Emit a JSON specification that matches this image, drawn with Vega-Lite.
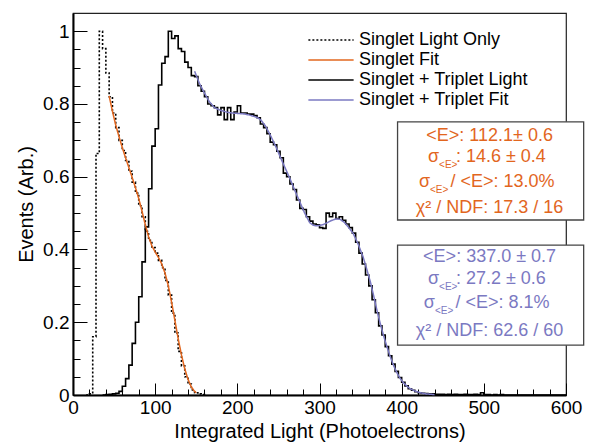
{
  "$schema": "https://vega.github.io/schema/vega-lite/v6.json",
  "width": 493,
  "height": 382,
  "autosize": {"type": "none"},
  "padding": {"left": 73, "top": 13, "right": 23, "bottom": 49},
  "background": "white",
  "config": {
    "font": "Liberation Sans",
    "view": {"stroke": "#222", "strokeWidth": 1.2},
    "legend": {
      "symbolType": "M-4,0H4",
      "symbolSize": 128,
      "symbolStrokeWidth": 1.6,
      "labelFontSize": 18,
      "labelFont": "Liberation Sans",
      "labelColor": "black",
      "labelOffset": 19,
      "rowPadding": 2,
      "padding": 0,
      "labelLimit": 400
    }
  },
  "resolve": {"axis": {"x": "independent", "y": "independent"}},
  "datasets": {
    "hist": [
      {"series": "Singlet Light Only", "x": 16, "y": 0},
      {"series": "Singlet Light Only", "x": 20, "y": 0.003},
      {"series": "Singlet Light Only", "x": 24, "y": 0.16},
      {"series": "Singlet Light Only", "x": 28, "y": 0.664},
      {"series": "Singlet Light Only", "x": 32, "y": 1.0},
      {"series": "Singlet Light Only", "x": 36, "y": 0.952},
      {"series": "Singlet Light Only", "x": 40, "y": 0.885},
      {"series": "Singlet Light Only", "x": 44, "y": 0.82},
      {"series": "Singlet Light Only", "x": 48, "y": 0.775},
      {"series": "Singlet Light Only", "x": 52, "y": 0.735},
      {"series": "Singlet Light Only", "x": 56, "y": 0.7},
      {"series": "Singlet Light Only", "x": 60, "y": 0.672},
      {"series": "Singlet Light Only", "x": 64, "y": 0.645},
      {"series": "Singlet Light Only", "x": 68, "y": 0.615},
      {"series": "Singlet Light Only", "x": 72, "y": 0.585},
      {"series": "Singlet Light Only", "x": 76, "y": 0.555},
      {"series": "Singlet Light Only", "x": 80, "y": 0.52},
      {"series": "Singlet Light Only", "x": 84, "y": 0.49},
      {"series": "Singlet Light Only", "x": 88, "y": 0.45},
      {"series": "Singlet Light Only", "x": 92, "y": 0.425},
      {"series": "Singlet Light Only", "x": 96, "y": 0.405},
      {"series": "Singlet Light Only", "x": 100, "y": 0.39},
      {"series": "Singlet Light Only", "x": 104, "y": 0.37},
      {"series": "Singlet Light Only", "x": 108, "y": 0.35},
      {"series": "Singlet Light Only", "x": 112, "y": 0.315},
      {"series": "Singlet Light Only", "x": 116, "y": 0.275},
      {"series": "Singlet Light Only", "x": 120, "y": 0.225},
      {"series": "Singlet Light Only", "x": 124, "y": 0.17},
      {"series": "Singlet Light Only", "x": 128, "y": 0.12},
      {"series": "Singlet Light Only", "x": 132, "y": 0.08},
      {"series": "Singlet Light Only", "x": 136, "y": 0.05},
      {"series": "Singlet Light Only", "x": 140, "y": 0.03},
      {"series": "Singlet Light Only", "x": 144, "y": 0.014},
      {"series": "Singlet Light Only", "x": 148, "y": 0.006},
      {"series": "Singlet Light Only", "x": 152, "y": 0.003},
      {"series": "Singlet Light Only", "x": 156, "y": 0.001},
      {"series": "Singlet Light Only", "x": 160, "y": 0},

      {"series": "Singlet + Triplet Light", "x": 36, "y": 0},
      {"series": "Singlet + Triplet Light", "x": 40, "y": 0.001},
      {"series": "Singlet + Triplet Light", "x": 44, "y": 0.002},
      {"series": "Singlet + Triplet Light", "x": 48, "y": 0.003},
      {"series": "Singlet + Triplet Light", "x": 52, "y": 0.005},
      {"series": "Singlet + Triplet Light", "x": 56, "y": 0.01},
      {"series": "Singlet + Triplet Light", "x": 60, "y": 0.024},
      {"series": "Singlet + Triplet Light", "x": 64, "y": 0.045},
      {"series": "Singlet + Triplet Light", "x": 68, "y": 0.082},
      {"series": "Singlet + Triplet Light", "x": 72, "y": 0.142},
      {"series": "Singlet + Triplet Light", "x": 76, "y": 0.2},
      {"series": "Singlet + Triplet Light", "x": 80, "y": 0.27},
      {"series": "Singlet + Triplet Light", "x": 84, "y": 0.366},
      {"series": "Singlet + Triplet Light", "x": 88, "y": 0.462},
      {"series": "Singlet + Triplet Light", "x": 92, "y": 0.567},
      {"series": "Singlet + Triplet Light", "x": 96, "y": 0.684},
      {"series": "Singlet + Triplet Light", "x": 100, "y": 0.732},
      {"series": "Singlet + Triplet Light", "x": 104, "y": 0.852},
      {"series": "Singlet + Triplet Light", "x": 108, "y": 0.912},
      {"series": "Singlet + Triplet Light", "x": 112, "y": 0.93},
      {"series": "Singlet + Triplet Light", "x": 116, "y": 1.0},
      {"series": "Singlet + Triplet Light", "x": 120, "y": 0.98},
      {"series": "Singlet + Triplet Light", "x": 124, "y": 0.987},
      {"series": "Singlet + Triplet Light", "x": 128, "y": 0.952},
      {"series": "Singlet + Triplet Light", "x": 132, "y": 0.944},
      {"series": "Singlet + Triplet Light", "x": 136, "y": 0.915},
      {"series": "Singlet + Triplet Light", "x": 140, "y": 0.9},
      {"series": "Singlet + Triplet Light", "x": 144, "y": 0.878},
      {"series": "Singlet + Triplet Light", "x": 148, "y": 0.875},
      {"series": "Singlet + Triplet Light", "x": 152, "y": 0.85},
      {"series": "Singlet + Triplet Light", "x": 156, "y": 0.835},
      {"series": "Singlet + Triplet Light", "x": 160, "y": 0.82},
      {"series": "Singlet + Triplet Light", "x": 164, "y": 0.8},
      {"series": "Singlet + Triplet Light", "x": 168, "y": 0.795},
      {"series": "Singlet + Triplet Light", "x": 172, "y": 0.79},
      {"series": "Singlet + Triplet Light", "x": 176, "y": 0.77},
      {"series": "Singlet + Triplet Light", "x": 180, "y": 0.79},
      {"series": "Singlet + Triplet Light", "x": 184, "y": 0.757},
      {"series": "Singlet + Triplet Light", "x": 188, "y": 0.79},
      {"series": "Singlet + Triplet Light", "x": 192, "y": 0.757},
      {"series": "Singlet + Triplet Light", "x": 196, "y": 0.778},
      {"series": "Singlet + Triplet Light", "x": 200, "y": 0.795},
      {"series": "Singlet + Triplet Light", "x": 204, "y": 0.775},
      {"series": "Singlet + Triplet Light", "x": 208, "y": 0.775},
      {"series": "Singlet + Triplet Light", "x": 212, "y": 0.772},
      {"series": "Singlet + Triplet Light", "x": 216, "y": 0.772},
      {"series": "Singlet + Triplet Light", "x": 220, "y": 0.768},
      {"series": "Singlet + Triplet Light", "x": 224, "y": 0.762},
      {"series": "Singlet + Triplet Light", "x": 228, "y": 0.745},
      {"series": "Singlet + Triplet Light", "x": 232, "y": 0.735},
      {"series": "Singlet + Triplet Light", "x": 236, "y": 0.718},
      {"series": "Singlet + Triplet Light", "x": 240, "y": 0.695},
      {"series": "Singlet + Triplet Light", "x": 244, "y": 0.688},
      {"series": "Singlet + Triplet Light", "x": 248, "y": 0.67},
      {"series": "Singlet + Triplet Light", "x": 252, "y": 0.652},
      {"series": "Singlet + Triplet Light", "x": 256, "y": 0.61},
      {"series": "Singlet + Triplet Light", "x": 260, "y": 0.6},
      {"series": "Singlet + Triplet Light", "x": 264, "y": 0.58},
      {"series": "Singlet + Triplet Light", "x": 268, "y": 0.565},
      {"series": "Singlet + Triplet Light", "x": 272, "y": 0.536},
      {"series": "Singlet + Triplet Light", "x": 276, "y": 0.513},
      {"series": "Singlet + Triplet Light", "x": 280, "y": 0.51},
      {"series": "Singlet + Triplet Light", "x": 284, "y": 0.49},
      {"series": "Singlet + Triplet Light", "x": 288, "y": 0.478},
      {"series": "Singlet + Triplet Light", "x": 292, "y": 0.47},
      {"series": "Singlet + Triplet Light", "x": 296, "y": 0.468},
      {"series": "Singlet + Triplet Light", "x": 300, "y": 0.46},
      {"series": "Singlet + Triplet Light", "x": 304, "y": 0.458},
      {"series": "Singlet + Triplet Light", "x": 308, "y": 0.5},
      {"series": "Singlet + Triplet Light", "x": 312, "y": 0.49},
      {"series": "Singlet + Triplet Light", "x": 316, "y": 0.5},
      {"series": "Singlet + Triplet Light", "x": 320, "y": 0.485},
      {"series": "Singlet + Triplet Light", "x": 324, "y": 0.49},
      {"series": "Singlet + Triplet Light", "x": 328, "y": 0.48},
      {"series": "Singlet + Triplet Light", "x": 332, "y": 0.47},
      {"series": "Singlet + Triplet Light", "x": 336, "y": 0.46},
      {"series": "Singlet + Triplet Light", "x": 340, "y": 0.445},
      {"series": "Singlet + Triplet Light", "x": 344, "y": 0.42},
      {"series": "Singlet + Triplet Light", "x": 348, "y": 0.39},
      {"series": "Singlet + Triplet Light", "x": 352, "y": 0.36},
      {"series": "Singlet + Triplet Light", "x": 356, "y": 0.33},
      {"series": "Singlet + Triplet Light", "x": 360, "y": 0.3},
      {"series": "Singlet + Triplet Light", "x": 364, "y": 0.262},
      {"series": "Singlet + Triplet Light", "x": 368, "y": 0.226},
      {"series": "Singlet + Triplet Light", "x": 372, "y": 0.19},
      {"series": "Singlet + Triplet Light", "x": 376, "y": 0.165},
      {"series": "Singlet + Triplet Light", "x": 380, "y": 0.133},
      {"series": "Singlet + Triplet Light", "x": 384, "y": 0.108},
      {"series": "Singlet + Triplet Light", "x": 388, "y": 0.085},
      {"series": "Singlet + Triplet Light", "x": 392, "y": 0.065},
      {"series": "Singlet + Triplet Light", "x": 396, "y": 0.048},
      {"series": "Singlet + Triplet Light", "x": 400, "y": 0.035},
      {"series": "Singlet + Triplet Light", "x": 404, "y": 0.025},
      {"series": "Singlet + Triplet Light", "x": 408, "y": 0.017},
      {"series": "Singlet + Triplet Light", "x": 412, "y": 0.013},
      {"series": "Singlet + Triplet Light", "x": 416, "y": 0.009},
      {"series": "Singlet + Triplet Light", "x": 420, "y": 0.006},
      {"series": "Singlet + Triplet Light", "x": 424, "y": 0.005},
      {"series": "Singlet + Triplet Light", "x": 428, "y": 0.004},
      {"series": "Singlet + Triplet Light", "x": 432, "y": 0.003},
      {"series": "Singlet + Triplet Light", "x": 436, "y": 0.003},
      {"series": "Singlet + Triplet Light", "x": 440, "y": 0.002},
      {"series": "Singlet + Triplet Light", "x": 444, "y": 0.002},
      {"series": "Singlet + Triplet Light", "x": 448, "y": 0.002},
      {"series": "Singlet + Triplet Light", "x": 452, "y": 0.001},
      {"series": "Singlet + Triplet Light", "x": 456, "y": 0.002},
      {"series": "Singlet + Triplet Light", "x": 460, "y": 0.001},
      {"series": "Singlet + Triplet Light", "x": 464, "y": 0.002},
      {"series": "Singlet + Triplet Light", "x": 468, "y": 0.001},
      {"series": "Singlet + Triplet Light", "x": 472, "y": 0.001},
      {"series": "Singlet + Triplet Light", "x": 476, "y": 0.002},
      {"series": "Singlet + Triplet Light", "x": 480, "y": 0.001},
      {"series": "Singlet + Triplet Light", "x": 484, "y": 0.001},
      {"series": "Singlet + Triplet Light", "x": 488, "y": 0.002},
      {"series": "Singlet + Triplet Light", "x": 492, "y": 0.001},
      {"series": "Singlet + Triplet Light", "x": 496, "y": 0.006},
      {"series": "Singlet + Triplet Light", "x": 500, "y": 0.001},
      {"series": "Singlet + Triplet Light", "x": 504, "y": 0.001},
      {"series": "Singlet + Triplet Light", "x": 508, "y": 0.0},
      {"series": "Singlet + Triplet Light", "x": 512, "y": 0.001},
      {"series": "Singlet + Triplet Light", "x": 516, "y": 0.0},
      {"series": "Singlet + Triplet Light", "x": 520, "y": 0.001},
      {"series": "Singlet + Triplet Light", "x": 524, "y": 0.0},
      {"series": "Singlet + Triplet Light", "x": 600, "y": 0.0}
    ],
    "fit": [
      {"series": "Singlet Fit", "x": 44, "y": 0.822},
      {"series": "Singlet Fit", "x": 48, "y": 0.78},
      {"series": "Singlet Fit", "x": 52, "y": 0.742},
      {"series": "Singlet Fit", "x": 56, "y": 0.71},
      {"series": "Singlet Fit", "x": 60, "y": 0.68},
      {"series": "Singlet Fit", "x": 64, "y": 0.652},
      {"series": "Singlet Fit", "x": 68, "y": 0.625},
      {"series": "Singlet Fit", "x": 72, "y": 0.598},
      {"series": "Singlet Fit", "x": 76, "y": 0.57},
      {"series": "Singlet Fit", "x": 80, "y": 0.54},
      {"series": "Singlet Fit", "x": 84, "y": 0.505},
      {"series": "Singlet Fit", "x": 88, "y": 0.468},
      {"series": "Singlet Fit", "x": 92, "y": 0.435},
      {"series": "Singlet Fit", "x": 96, "y": 0.41},
      {"series": "Singlet Fit", "x": 100, "y": 0.393},
      {"series": "Singlet Fit", "x": 104, "y": 0.378},
      {"series": "Singlet Fit", "x": 108, "y": 0.36},
      {"series": "Singlet Fit", "x": 112, "y": 0.335},
      {"series": "Singlet Fit", "x": 116, "y": 0.3},
      {"series": "Singlet Fit", "x": 120, "y": 0.255},
      {"series": "Singlet Fit", "x": 124, "y": 0.205},
      {"series": "Singlet Fit", "x": 128, "y": 0.155},
      {"series": "Singlet Fit", "x": 132, "y": 0.11},
      {"series": "Singlet Fit", "x": 136, "y": 0.072},
      {"series": "Singlet Fit", "x": 140, "y": 0.043},
      {"series": "Singlet Fit", "x": 144, "y": 0.022},
      {"series": "Singlet Fit", "x": 148, "y": 0.01},
      {"series": "Singlet Fit", "x": 150, "y": 0.006},

      {"series": "Singlet + Triplet Fit", "x": 148, "y": 0.89},
      {"series": "Singlet + Triplet Fit", "x": 154, "y": 0.856},
      {"series": "Singlet + Triplet Fit", "x": 160, "y": 0.83},
      {"series": "Singlet + Triplet Fit", "x": 166, "y": 0.806},
      {"series": "Singlet + Triplet Fit", "x": 172, "y": 0.79},
      {"series": "Singlet + Triplet Fit", "x": 180, "y": 0.782},
      {"series": "Singlet + Triplet Fit", "x": 188, "y": 0.777},
      {"series": "Singlet + Triplet Fit", "x": 194, "y": 0.775},
      {"series": "Singlet + Triplet Fit", "x": 200, "y": 0.774},
      {"series": "Singlet + Triplet Fit", "x": 207, "y": 0.773},
      {"series": "Singlet + Triplet Fit", "x": 214, "y": 0.77},
      {"series": "Singlet + Triplet Fit", "x": 220, "y": 0.766},
      {"series": "Singlet + Triplet Fit", "x": 225, "y": 0.762},
      {"series": "Singlet + Triplet Fit", "x": 229, "y": 0.755},
      {"series": "Singlet + Triplet Fit", "x": 234, "y": 0.74},
      {"series": "Singlet + Triplet Fit", "x": 240, "y": 0.715},
      {"series": "Singlet + Triplet Fit", "x": 247, "y": 0.682},
      {"series": "Singlet + Triplet Fit", "x": 255, "y": 0.64},
      {"series": "Singlet + Triplet Fit", "x": 264, "y": 0.595},
      {"series": "Singlet + Triplet Fit", "x": 270, "y": 0.562},
      {"series": "Singlet + Triplet Fit", "x": 276, "y": 0.531},
      {"series": "Singlet + Triplet Fit", "x": 282, "y": 0.5},
      {"series": "Singlet + Triplet Fit", "x": 288, "y": 0.474},
      {"series": "Singlet + Triplet Fit", "x": 292, "y": 0.467},
      {"series": "Singlet + Triplet Fit", "x": 296, "y": 0.465},
      {"series": "Singlet + Triplet Fit", "x": 300, "y": 0.466},
      {"series": "Singlet + Triplet Fit", "x": 304, "y": 0.468},
      {"series": "Singlet + Triplet Fit", "x": 308, "y": 0.472},
      {"series": "Singlet + Triplet Fit", "x": 314, "y": 0.479},
      {"series": "Singlet + Triplet Fit", "x": 320, "y": 0.484},
      {"series": "Singlet + Triplet Fit", "x": 325, "y": 0.483},
      {"series": "Singlet + Triplet Fit", "x": 330, "y": 0.475},
      {"series": "Singlet + Triplet Fit", "x": 335, "y": 0.462},
      {"series": "Singlet + Triplet Fit", "x": 341, "y": 0.444},
      {"series": "Singlet + Triplet Fit", "x": 347, "y": 0.415},
      {"series": "Singlet + Triplet Fit", "x": 353, "y": 0.38},
      {"series": "Singlet + Triplet Fit", "x": 358, "y": 0.342},
      {"series": "Singlet + Triplet Fit", "x": 362, "y": 0.31},
      {"series": "Singlet + Triplet Fit", "x": 366, "y": 0.272},
      {"series": "Singlet + Triplet Fit", "x": 370, "y": 0.232},
      {"series": "Singlet + Triplet Fit", "x": 374, "y": 0.196},
      {"series": "Singlet + Triplet Fit", "x": 378, "y": 0.163},
      {"series": "Singlet + Triplet Fit", "x": 382, "y": 0.133},
      {"series": "Singlet + Triplet Fit", "x": 386, "y": 0.106},
      {"series": "Singlet + Triplet Fit", "x": 390, "y": 0.082},
      {"series": "Singlet + Triplet Fit", "x": 394, "y": 0.062},
      {"series": "Singlet + Triplet Fit", "x": 398, "y": 0.046},
      {"series": "Singlet + Triplet Fit", "x": 402, "y": 0.034},
      {"series": "Singlet + Triplet Fit", "x": 406, "y": 0.025},
      {"series": "Singlet + Triplet Fit", "x": 410, "y": 0.018},
      {"series": "Singlet + Triplet Fit", "x": 415, "y": 0.012},
      {"series": "Singlet + Triplet Fit", "x": 420, "y": 0.008},
      {"series": "Singlet + Triplet Fit", "x": 425, "y": 0.005},
      {"series": "Singlet + Triplet Fit", "x": 430, "y": 0.003},
      {"series": "Singlet + Triplet Fit", "x": 440, "y": 0.001}
    ],
    "boxes": [
      {"box": 1, "x": 395, "x2": 621.5, "y": 0.751, "y2": 0.481},
      {"box": 2, "x": 395, "x2": 621.5, "y": 0.412, "y2": 0.137}
    ],
    "stats": [
      {"box": 1, "kind": "center", "text": "<E>: 112.1± 0.6", "x": 507, "y": 0.712},
      {"box": 1, "kind": "left", "text": "σ", "x": 432, "y": 0.654},
      {"box": 1, "kind": "sub", "text": "<E>", "x": 445.5, "y": 0.654},
      {"box": 1, "kind": "left", "text": ": 14.6 ± 0.4", "x": 466, "y": 0.654},
      {"box": 1, "kind": "left", "text": "σ", "x": 421, "y": 0.586},
      {"box": 1, "kind": "sub", "text": "<E>", "x": 434.5, "y": 0.586},
      {"box": 1, "kind": "left", "text": "/ <E>: 13.0%", "x": 459.5, "y": 0.586},
      {"box": 1, "kind": "center", "text": "χ² / NDF: 17.3 / 16", "x": 507, "y": 0.515},
      {"box": 2, "kind": "center", "text": "<E>: 337.0 ± 0.7", "x": 507, "y": 0.378},
      {"box": 2, "kind": "left", "text": "σ", "x": 432, "y": 0.319},
      {"box": 2, "kind": "sub", "text": "<E>", "x": 445.5, "y": 0.319},
      {"box": 2, "kind": "left", "text": ": 27.2 ± 0.6", "x": 466, "y": 0.319},
      {"box": 2, "kind": "left", "text": "σ", "x": 427, "y": 0.252},
      {"box": 2, "kind": "sub", "text": "<E>", "x": 440.5, "y": 0.252},
      {"box": 2, "kind": "left", "text": "/ <E>: 8.1%", "x": 465.5, "y": 0.252},
      {"box": 2, "kind": "center", "text": "χ² / NDF: 62.6 / 60", "x": 507, "y": 0.177}
    ]
  },
  "layer": [
    {
      "data": {"name": "hist"},
      "mark": {"type": "line", "interpolate": "step-after", "strokeWidth": 1.6},
      "encoding": {
        "x": {
          "field": "x", "type": "quantitative",
          "scale": {"domain": [0, 600], "nice": false, "zero": false},
          "axis": {
            "orient": "bottom",
            "title": "Integrated Light (Photoelectrons)",
            "values": [0, 100, 200, 300, 400, 500, 600],
            "grid": false,
            "tickSize": -12,
            "tickColor": "black",
            "tickWidth": 1,
            "domainColor": "black",
            "domainWidth": 2,
            "labelFontSize": 19,
            "labelColor": "black",
            "labelFont": "Liberation Sans",
            "labelPadding": 15,
            "labelFlush": false,
            "labelOverlap": false,
            "titleFontSize": 20,
            "titleFont": "Liberation Sans",
            "titleFontWeight": "normal",
            "titleColor": "black",
            "titlePadding": 4
          }
        },
        "y": {
          "field": "y", "type": "quantitative",
          "scale": {"domain": [0, 1.05], "nice": false, "zero": true},
          "axis": {
            "orient": "left",
            "title": "Events (Arb.)",
            "values": [0, 0.2, 0.4, 0.6, 0.8, 1.0],
            "format": "~g",
            "grid": false,
            "tickSize": -14,
            "tickColor": "black",
            "tickWidth": 1,
            "domainColor": "black",
            "domainWidth": 2,
            "labelFontSize": 19,
            "labelColor": "black",
            "labelFont": "Liberation Sans",
            "labelPadding": 18,
            "labelFlush": false,
            "labelOverlap": false,
            "titleFontSize": 20,
            "titleFont": "Liberation Sans",
            "titleFontWeight": "normal",
            "titleColor": "black",
            "titlePadding": 6
          }
        },
        "color": {
          "field": "series", "type": "nominal",
          "scale": {
            "domain": ["Singlet Light Only", "Singlet Fit", "Singlet + Triplet Light", "Singlet + Triplet Fit"],
            "range": ["#000000", "#e2661e", "#000000", "#7b79c2"]
          },
          "legend": {"title": null, "orient": "none", "legendX": 249, "legendY": 18}
        },
        "strokeDash": {
          "field": "series", "type": "nominal",
          "scale": {
            "domain": ["Singlet Light Only", "Singlet Fit", "Singlet + Triplet Light", "Singlet + Triplet Fit"],
            "range": [[2, 2], [1, 0], [1, 0], [1, 0]]
          },
          "legend": {"title": null, "orient": "none", "legendX": 249, "legendY": 18}
        }
      }
    },
    {
      "data": {"name": "fit"},
      "mark": {"type": "line", "strokeWidth": 1.5},
      "encoding": {
        "x": {
          "field": "x", "type": "quantitative",
          "axis": {
            "orient": "bottom",
            "title": null,
            "values": [20,40,60,80,120,140,160,180,220,240,260,280,320,340,360,380,420,440,460,480,520,540,560,580],
            "labels": false,
            "domain": false,
            "grid": false,
            "tickSize": -6,
            "tickColor": "black",
            "tickWidth": 1
          }
        },
        "y": {
          "field": "y", "type": "quantitative",
          "axis": {
            "orient": "left",
            "title": null,
            "values": [0.05,0.1,0.15,0.25,0.3,0.35,0.45,0.5,0.55,0.65,0.7,0.75,0.85,0.9,0.95],
            "labels": false,
            "domain": false,
            "grid": false,
            "tickSize": -7,
            "tickColor": "black",
            "tickWidth": 1
          }
        },
        "color": {"field": "series", "type": "nominal"},
        "strokeDash": {"field": "series", "type": "nominal"}
      }
    },
    {
      "data": {"name": "boxes"},
      "mark": {"type": "rect", "fill": "white", "stroke": "#444", "strokeWidth": 1.3},
      "encoding": {
        "x": {"field": "x", "type": "quantitative", "axis": null},
        "x2": {"field": "x2"},
        "y": {"field": "y", "type": "quantitative", "axis": null},
        "y2": {"field": "y2"}
      }
    },
    {
      "data": {"name": "stats"},
      "transform": [{"filter": "datum.kind === 'center'"}],
      "mark": {"type": "text", "align": "center", "baseline": "middle", "fontSize": 18, "font": "Liberation Sans"},
      "encoding": {
        "x": {"field": "x", "type": "quantitative", "axis": null},
        "y": {"field": "y", "type": "quantitative", "axis": null},
        "text": {"field": "text"},
        "color": {"condition": {"test": "datum.box === 1", "value": "#e2661e"}, "value": "#7b79c2"}
      }
    },
    {
      "data": {"name": "stats"},
      "transform": [{"filter": "datum.kind === 'left'"}],
      "mark": {"type": "text", "align": "left", "baseline": "middle", "fontSize": 18, "font": "Liberation Sans"},
      "encoding": {
        "x": {"field": "x", "type": "quantitative", "axis": null},
        "y": {"field": "y", "type": "quantitative", "axis": null},
        "text": {"field": "text"},
        "color": {"condition": {"test": "datum.box === 1", "value": "#e2661e"}, "value": "#7b79c2"}
      }
    },
    {
      "data": {"name": "stats"},
      "transform": [{"filter": "datum.kind === 'sub'"}],
      "mark": {"type": "text", "align": "left", "baseline": "middle", "fontSize": 10, "dy": 8, "font": "Liberation Sans"},
      "encoding": {
        "x": {"field": "x", "type": "quantitative", "axis": null},
        "y": {"field": "y", "type": "quantitative", "axis": null},
        "text": {"field": "text"},
        "color": {"condition": {"test": "datum.box === 1", "value": "#e2661e"}, "value": "#7b79c2"}
      }
    }
  ]
}
